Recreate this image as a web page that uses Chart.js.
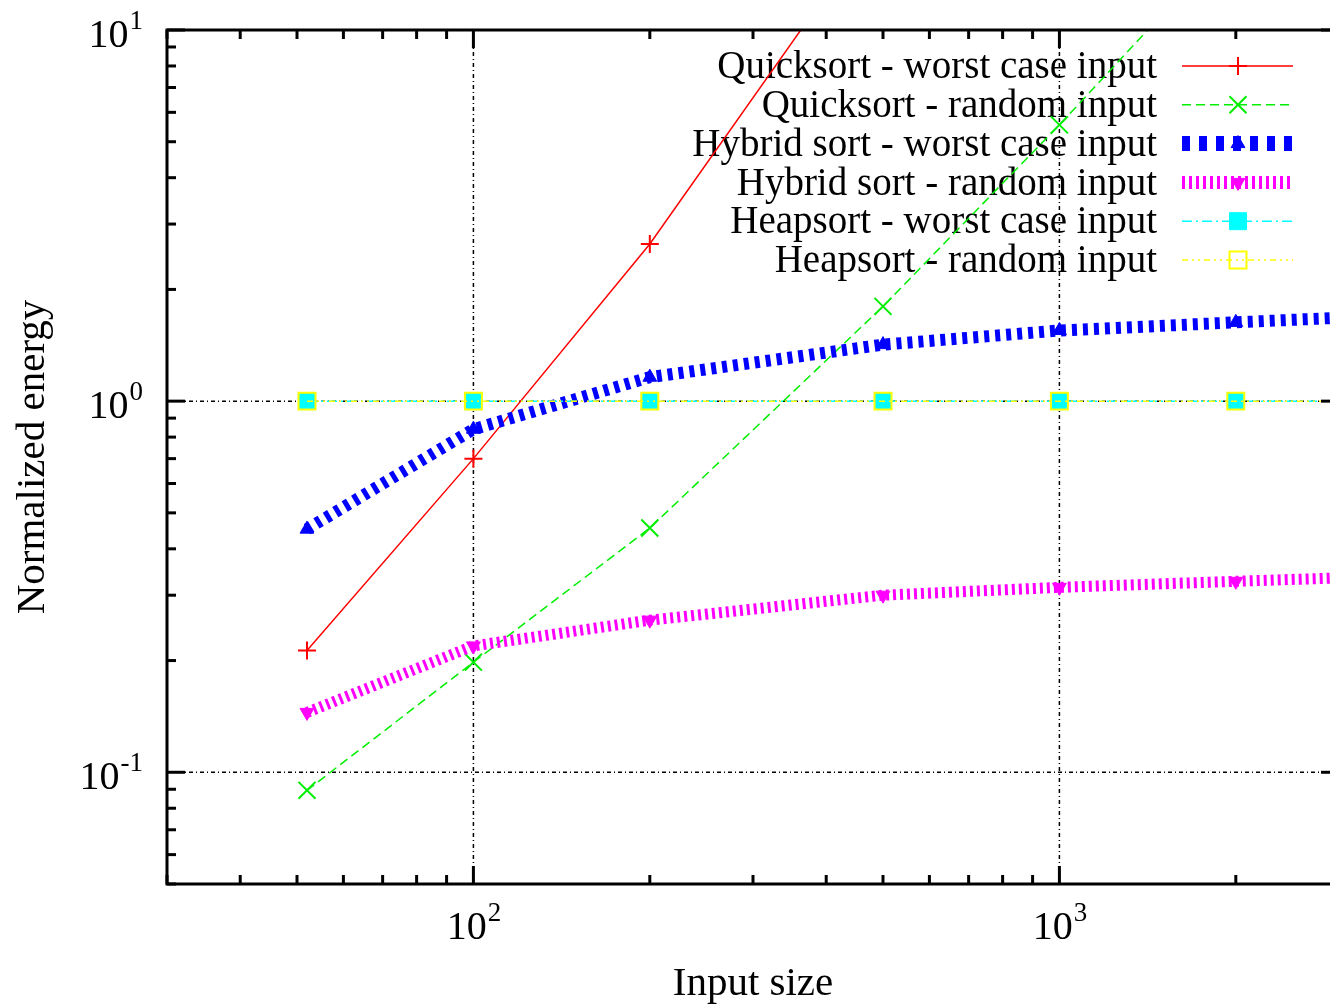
<!DOCTYPE html>
<html>
<head>
<meta charset="utf-8">
<script src="https://cdn.jsdelivr.net/npm/chart.js@4.4.1/dist/chart.umd.min.js"></script>
<style>
html,body{margin:0;padding:0;background:#fff;overflow:hidden;}
#wrap{width:1353px;height:1006px;}
</style>
</head>
<body>
<div id="wrap"><canvas id="c" width="1353" height="1006"></canvas></div>
<script>
// input sizes (last one lies past the right edge, the lines run off it)
const SIZES = [52, 100, 200, 500, 1000, 2000, 5000];
const QS_WORST = [0.213, 0.70, 2.65, 20.6, null, null, null];
const QS_RANDOM = [0.0894, 0.198, 0.455, 1.80, 5.55, 18, null];
const HYBRID_WORST = [0.452, 0.84, 1.16, 1.42, 1.55, 1.63, 1.74];
const HYBRID_RANDOM = [0.145, 0.219, 0.257, 0.30, 0.315, 0.327, 0.343];
const HEAP_WORST = [1, 1, 1, 1, 1, 1, 1];
const HEAP_RANDOM = [1, 1, 1, 1, 1, 1, 1];

const SERIES_NAMES = [
     'Quicksort - worst case input',
     'Quicksort - random input',
     'Hybrid sort - worst case input',
     'Hybrid sort - random input',
     'Heapsort - worst case input',
     'Heapsort - random input'
];

// major ticks are powers of ten, labels are "10" with the exponent raised
const X_MAJOR = [100, 1000];
const X_MAJOR_EXP = ['2', '3'];
const Y_MAJOR = [0.1, 1, 10];
const Y_MAJOR_EXP = ['-1', '0', '1'];
const X_RANGE = [30, 3000];
const Y_RANGE = [0.05, 10];

const FONT = 'Liberation Serif';

function pts(vals){
     let out = [];
     for(let i = 0; i < SIZES.length; i++){
          if(vals[i] != null){ out.push({x: SIZES[i], y: vals[i]}); }
     }
     return out;
}

// minor ticks at 2..9 of every decade inside range
function minorValues(range){
     let out = [];
     for(let e = -3; e <= 4; e++){
          for(let k = 2; k <= 9; k++){
               let v = k * Math.pow(10, e);
               if(v >= range[0] - 1e-9 && v <= range[1] + 1e-9){ out.push(v); }
          }
     }
     return out;
}

function powLabel(ctx, exp, x, y, align){
     ctx.font = '40px "' + FONT + '"';
     const bw = ctx.measureText('10').width;
     ctx.font = '27px "' + FONT + '"';
     const ew = ctx.measureText(exp).width;
     let start = align == 'center' ? x - (bw + ew) / 2 : x - (bw + ew);
     ctx.textAlign = 'left';
     ctx.textBaseline = 'alphabetic';
     ctx.font = '40px "' + FONT + '"';
     ctx.fillText('10', start, y);
     ctx.font = '27px "' + FONT + '"';
     ctx.fillText(exp, start + bw + 1, y - 18);
}

function drawLegend(chart){
     const ctx = chart.ctx;
     const textRight = 1157, x0 = 1182, x1 = 1293, xm = 1238;
     const top = 66, step = 38.8;
     ctx.save();
     chart.data.datasets.forEach((ds, i) => {
          const yy = top + i * step;
          ctx.font = '39px "' + FONT + '"';
          ctx.fillStyle = '#000';
          ctx.textAlign = 'right';
          ctx.textBaseline = 'middle';
          ctx.fillText(ds.label, textRight, yy + 2);
          ctx.strokeStyle = ds.borderColor;
          ctx.lineWidth = ds.legendWidth || ds.borderWidth;
          ctx.setLineDash(ds.legendDash || ds.borderDash || []);
          ctx.beginPath();
          ctx.moveTo(x0, yy);
          ctx.lineTo(x1, yy);
          ctx.stroke();
          ctx.setLineDash([]);
          ctx.fillStyle = ds.pointBackgroundColor;
          ctx.strokeStyle = ds.pointBorderColor;
          ctx.lineWidth = ds.pointBorderWidth;
          Chart.helpers.drawPoint(ctx, {
               pointStyle: ds.pointStyle,
               rotation: ds.pointRotation || 0,
               radius: ds.pointRadius,
               borderWidth: ds.pointBorderWidth
          }, xm, yy);
     });
     ctx.restore();
}

const framePlugin = {
     id: 'frame',
     beforeDatasetsDraw(chart){
          const {ctx, chartArea: a, scales: {x, y}} = chart;
          ctx.save();
          ctx.strokeStyle = '#000';
          ctx.lineWidth = 1.5;
          ctx.setLineDash([4, 3, 1, 3]);
          X_MAJOR.forEach(v => {
               const px = x.getPixelForValue(v);
               ctx.beginPath(); ctx.moveTo(px, a.top); ctx.lineTo(px, a.bottom); ctx.stroke();
          });
          Y_MAJOR.forEach(v => {
               const py = y.getPixelForValue(v);
               ctx.beginPath(); ctx.moveTo(a.left, py); ctx.lineTo(a.right, py); ctx.stroke();
          });
          ctx.restore();
          drawLegend(chart);
     },
     afterDatasetsDraw(chart){
          const {ctx, chartArea: a, scales: {x, y}} = chart;
          ctx.save();
          ctx.strokeStyle = '#000';
          ctx.lineWidth = 3;
          ctx.setLineDash([]);
          const tick = (x1, y1, x2, y2) => { ctx.beginPath(); ctx.moveTo(x1, y1); ctx.lineTo(x2, y2); ctx.stroke(); };
          minorValues(X_RANGE).forEach(v => {
               const px = x.getPixelForValue(v);
               tick(px, a.bottom, px, a.bottom - 9);
               tick(px, a.top, px, a.top + 9);
          });
          X_MAJOR.forEach(v => {
               const px = x.getPixelForValue(v);
               tick(px, a.bottom, px, a.bottom - 18);
               tick(px, a.top, px, a.top + 18);
          });
          minorValues(Y_RANGE).forEach(v => {
               const py = y.getPixelForValue(v);
               tick(a.left, py, a.left + 9, py);
               tick(a.right, py, a.right - 9, py);
          });
          Y_MAJOR.forEach(v => {
               const py = y.getPixelForValue(v);
               tick(a.left, py, a.left + 18, py);
               tick(a.right, py, a.right - 18, py);
          });
          ctx.strokeRect(a.left, a.top, a.right - a.left, a.bottom - a.top);

          ctx.fillStyle = '#000';
          X_MAJOR.forEach((v, i) => powLabel(ctx, X_MAJOR_EXP[i], x.getPixelForValue(v), a.bottom + 55, 'center'));
          Y_MAJOR.forEach((v, i) => powLabel(ctx, Y_MAJOR_EXP[i], a.left - 25, y.getPixelForValue(v) + 17, 'right'));
          ctx.restore();
     }
};

const datasets = [
     {
          label: SERIES_NAMES[0], data: pts(QS_WORST), order: 6,
          borderColor: '#ff0000', borderWidth: 1.5, borderDash: [],
          pointStyle: 'cross', pointRadius: 9, pointBorderWidth: 2,
          pointBorderColor: '#ff0000', pointBackgroundColor: '#ff0000'
     },
     {
          label: SERIES_NAMES[1], data: pts(QS_RANDOM), order: 5,
          borderColor: '#00ee00', borderWidth: 1.5, borderDash: [9, 5],
          pointStyle: 'crossRot', pointRadius: 12, pointBorderWidth: 2,
          pointBorderColor: '#00ee00', pointBackgroundColor: '#00ee00'
     },
     {
          label: SERIES_NAMES[2], data: pts(HYBRID_WORST), order: 4,
          borderColor: '#0000ff', borderWidth: 12, borderDash: [5, 6],
          legendWidth: 15, legendDash: [8, 9],
          pointStyle: 'triangle', pointRadius: 8, pointBorderWidth: 1,
          pointBorderColor: '#0000ff', pointBackgroundColor: '#0000ff'
     },
     {
          label: SERIES_NAMES[3], data: pts(HYBRID_RANDOM), order: 3,
          borderColor: '#ff00ff', borderWidth: 11, borderDash: [3, 4],
          legendWidth: 13, legendDash: [3, 4],
          pointStyle: 'triangle', pointRotation: 180, pointRadius: 8, pointBorderWidth: 1,
          pointBorderColor: '#ff00ff', pointBackgroundColor: '#ff00ff'
     },
     {
          label: SERIES_NAMES[4], data: pts(HEAP_WORST), order: 2,
          borderColor: '#00ffff', borderWidth: 1.5, borderDash: [10, 4, 2, 4],
          pointStyle: 'rect', pointRadius: 12, pointBorderWidth: 1,
          pointBorderColor: '#00ffff', pointBackgroundColor: '#00ffff'
     },
     {
          label: SERIES_NAMES[5], data: pts(HEAP_RANDOM), order: 1,
          borderColor: '#ffff00', borderWidth: 1.5, borderDash: [6, 4, 2, 4, 2, 4],
          pointStyle: 'rect', pointRadius: 12, pointBorderWidth: 2,
          pointBorderColor: '#ffff00', pointBackgroundColor: 'rgba(0,0,0,0)'
     }
];
datasets.forEach(d => { d.fill = false; d.tension = 0; d.clip = 0; d.spanGaps = true; });

const titleFont = {family: FONT, size: 41};

new Chart(document.getElementById('c').getContext('2d'), {
     type: 'line',
     data: {datasets: datasets},
     options: {
          responsive: false,
          animation: false,
          layout: {padding: {top: 30, right: 6, left: 0, bottom: 0}},
          plugins: {legend: {display: false}, tooltip: {enabled: false}},
          scales: {
               x: {
                    type: 'logarithmic', position: 'bottom',
                    min: X_RANGE[0], max: X_RANGE[1],
                    afterFit: s => { s.height = 122; s.paddingLeft = 0; s.paddingRight = 0; },
                    grid: {display: false, drawTicks: false},
                    border: {display: false},
                    ticks: {display: false},
                    title: {display: true, text: 'Input size', color: '#000', font: titleFont, padding: {top: 0, bottom: -3}}
               },
               y: {
                    type: 'logarithmic', position: 'left',
                    min: Y_RANGE[0], max: Y_RANGE[1],
                    afterFit: s => { s.width = 167; s.paddingTop = 0; s.paddingBottom = 0; },
                    grid: {display: false, drawTicks: false},
                    border: {display: false},
                    ticks: {display: false},
                    title: {display: true, text: 'Normalized energy', color: '#000', font: titleFont, padding: {top: 9, bottom: 0}}
               }
          }
     },
     plugins: [framePlugin]
});
</script>
</body>
</html>
